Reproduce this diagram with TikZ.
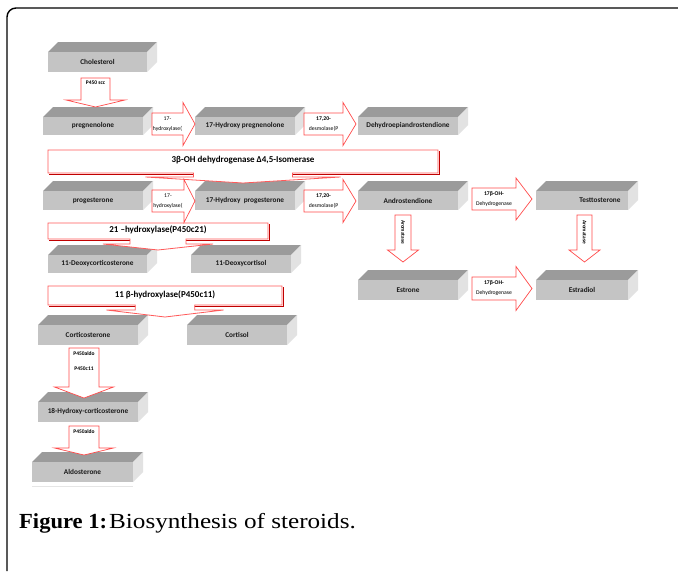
\documentclass[tikz,border=0pt]{standalone}
\usepackage{fontspec}
\setmainfont{Liberation Serif}
\newfontfamily\capreg[FakeStretch=1.17]{Liberation Serif}
\newfontfamily\capbold[FakeStretch=1.05,UprightFont=*,BoldFont=* Bold]{Liberation Serif}
\newfontfamily\carlito{Carlito}
\definecolor{frontc}{HTML}{C4C4C4}
\definecolor{topc}{HTML}{9B9B9B}
\definecolor{sidec}{HTML}{E2E2E2}
\definecolor{arrred}{HTML}{FF4A4A}
\definecolor{calred}{HTML}{FF5A5A}
\definecolor{shadred}{HTML}{C00000}
\tikzset{
  boxtext/.style={inner sep=0pt, font=\carlito\bfseries\fontsize{7.3}{8}\selectfont, text=black!90},
  arrowline/.style={draw=arrred, fill=white, line width=0.7pt, line join=miter},
  arrtext/.style={inner sep=0pt, align=center, font=\carlito\fontsize{5.7}{10}\selectfont},
  caltext/.style={inner sep=0pt, font=\carlito\bfseries\fontsize{9}{10}\selectfont},
  calline/.style={draw=calred, fill=white, line width=0.8pt, line join=miter},
  calshadow/.style={draw=shadred, line width=1pt, line join=miter},
}
% 3D slab: [label xshift]{name}{x1}{y1}{x2}{y2}{text}
\newcommand\slab[7][0]{%
  \fill[topc] (#3,#4) -- (#3+10,#4-10) -- (#5+10,#4-10) -- (#5,#4) -- cycle;
  \fill[sidec] (#5,#4) -- (#5+10,#4-10) -- (#5+10,#6-10) -- (#5,#6) -- cycle;
  \fill[frontc] (#3,#4) rectangle (#5,#6);
  \node[boxtext] (#2) at ({(#3+#5)/2+#1},{(#4+#6)/2}) {#7};}
% right block arrow: {name}{x body start}{x head start}{x tip}{y centre}{body half}{head half}{label}
\newcommand\rarr[8]{%
  \draw[arrowline] (#2,#5-#6) -- (#3,#5-#6) -- (#3,#5-#7) -- (#4,#5) -- (#3,#5+#7) -- (#3,#5+#6) -- (#2,#5+#6) -- cycle;
  \node[arrtext] (#1) at ({(#2+#3)/2},#5) {#8};}
% down block arrow: {name}{y body start}{y head start}{y tip}{x centre}{body half}{head half}{label}
\newcommand\darr[8]{%
  \draw[arrowline] (#5-#6,#2) -- (#5+#6,#2) -- (#5+#6,#3) -- (#5+#7,#3) -- (#5,#4) -- (#5-#7,#3) -- (#5-#6,#3) -- cycle;
  \node[arrtext, font=\carlito\bfseries\fontsize{5.5}{15}\selectfont, anchor=north] (#1) at (#5,#2+3) {#8};}
% callout box with down arrow: {name}{x1}{y1}{x2}{y2}{neck y}{tip y}{text}
\newcommand\callout[8]{%
  \pgfmathsetmacro\cx{(#2+#4)/2}%
  \pgfmathsetmacro\nh{0.127*(#4-#2)}%
  \pgfmathsetmacro\hh{0.25*(#4-#2)}%
  \begin{scope}[shift={(1.2,1.2)}]
  \draw[calshadow] (#2,#5) -- (#4,#5) -- (#4,#3);
  \end{scope}
  \draw[calline] (#2,#3) -- (#4,#3) -- (#4,#5) -- (\cx+\nh,#5) -- (\cx+\nh,#6) -- (\cx+\hh,#6) -- (\cx,#7) -- (\cx-\hh,#6) -- (\cx-\nh,#6) -- (\cx-\nh,#5) -- (#2,#5) -- cycle;
  \node[caltext] (#1) at (\cx,{(#3+#5)/2-1}) {#8};}
\begin{document}
\begin{tikzpicture}[x=1pt,y=-1pt]
\useasboundingbox (0,0) rectangle (678,571);
\fill[white] (0,0) rectangle (678,571);
% frame
\draw[line width=1.4pt] (7,571) -- (7,17) arc[start angle=180, end angle=270, radius=9] -- (678,8);

% slabs
\slab{chol}{48}{52}{147}{72}{Cholesterol}
\slab{preg}{43}{117}{143}{135}{pregnenolone}
\slab{ohpreg}{195}{117}{295}{135}{17-Hydroxy pregnenolone}
\slab{dhea}{358}{117}{458}{135}{Dehydroepiandrostendione}
\slab{prog}{43}{191}{143}{210}{progesterone}
\slab{ohprog}{195}{191}{295}{210}{17-Hydroxy\ \ progesterone}
\slab{andro}{358}{191}{458}{210}{Androstendione}
\slab[18]{testo}{536}{191}{628}{210}{Testtosterone}
\slab{doc}{48}{255}{147}{273}{11-Deoxycorticosterone}
\slab{dcort}{191}{255}{291}{273}{11-Deoxycortisol}
\slab{estrone}{358}{280}{458}{300}{Estrone}
\slab{estradiol}{536}{280}{628}{300}{Estradiol}
\slab{cortico}{38}{325}{138}{345}{Corticosterone}
\slab{cortisol}{187}{325}{287}{345}{Cortisol}
\slab{hcortico}{38}{402}{138}{422}{18-Hydroxy-corticosterone}
\slab{aldo}{32}{462}{133}{482}{Aldosterone}
\draw[black!10, line width=0.8pt] (32,486) -- (133,486);

% callouts
\callout{hsd}{48}{150}{438}{173}{177}{183}{3β-OH dehydrogenase Δ4,5-Isomerase}
\callout{cyp21}{48}{223}{268}{239}{244}{250}{21 –hydroxylase(P450c21)}
\callout{cyp11}{48}{286}{282}{305}{310}{317}{11 β-hydroxylase(P450c11)}

% right arrows
\rarr{a1}{152}{183}{195}{124}{11}{21.5}{17-\\hydroxylase(}
\rarr{a2}{304}{343}{356}{124}{11}{21.5}{\textbf{17,20-}\\desmolase(P}
\rarr{a3}{152}{184}{195}{201}{11}{21.5}{17-\\hydroxylase(}
\rarr{a4}{304}{343}{356}{201}{11}{21.5}{\textbf{17,20-}\\desmolase(P}
\rarr{a5}{472}{516}{532}{199}{11}{21}{\textbf{17β-OH-}\\Dehydrogenase}
\rarr{a6}{472}{516}{532}{288.5}{11.5}{22}{\textbf{17β-OH-}\\Dehydrogenase}

% down arrows
\darr{d1}{78}{100}{107}{95.5}{14.5}{29.5}{P450 scc}
\darr{d2}{215}{250}{262}{403}{8}{15.5}{}
\darr{d3}{215}{250}{262}{584.5}{7.5}{15.5}{}
\darr{d4}{348}{387}{398}{84}{15}{29.5}{P450aldo\\P450c11}
\darr{d5}{426}{448}{455}{84}{15}{29.5}{P450aldo}
\node[arrtext, rotate=-90, font=\carlito\bfseries\fontsize{5.3}{6}\selectfont] (arom1) at (403,232) {Aromatase};
\node[arrtext, rotate=-90, font=\carlito\bfseries\fontsize{5.3}{6}\selectfont] (arom2) at (584.5,232) {Aromatase};

% caption
\node[anchor=base west, inner sep=0pt, font=\fontsize{21.5}{24}\selectfont] (cap) at (19,528) {{\capbold\bfseries Figure 1:}\hspace{2pt}{\capreg Biosynthesis of steroids.}};
\end{tikzpicture}
\end{document}
